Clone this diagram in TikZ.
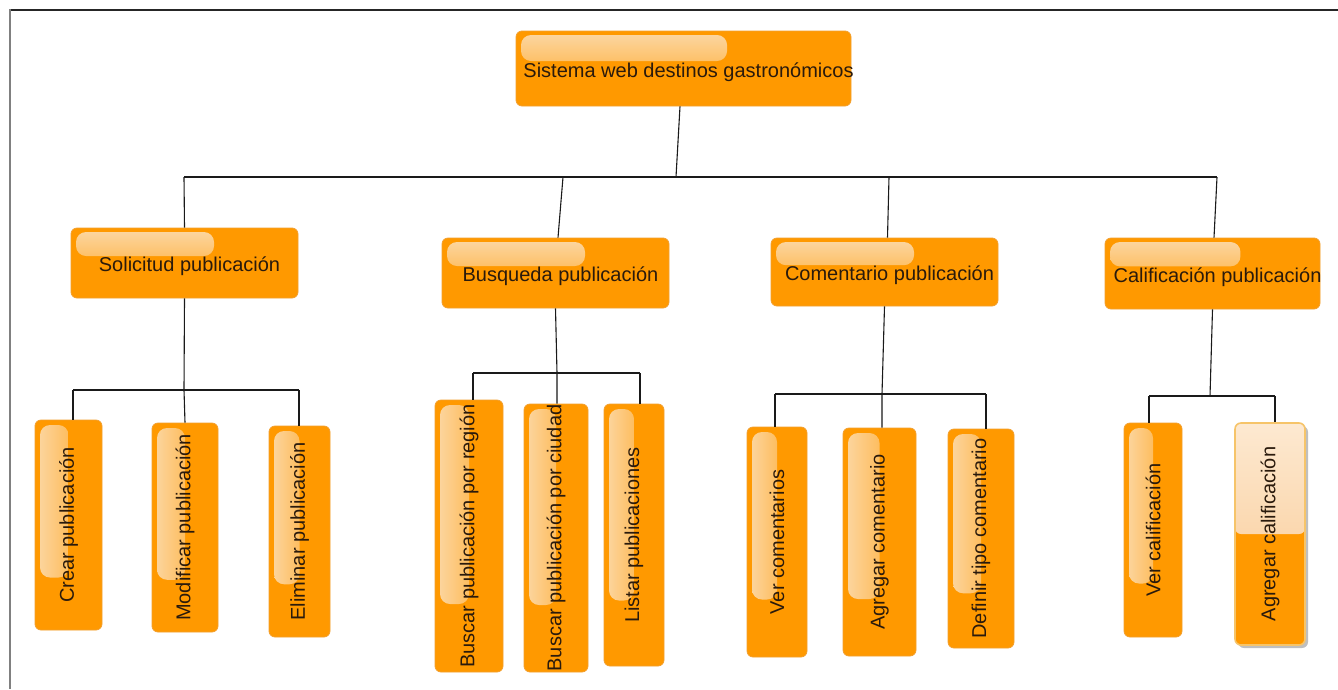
\documentclass[tikz,border=0pt]{standalone}
\usepackage{fontspec}
\setmainfont{Liberation Sans}
\usepackage{graphicx}
\usetikzlibrary{calc,shadows}

\definecolor{boxorange}{HTML}{FF9900}
\definecolor{boxedge}{HTML}{F2A030}
\definecolor{gloss}{HTML}{FCD8A6}
\definecolor{ink}{HTML}{2A1A0C}
\definecolor{wirecol}{HTML}{1A1A1A}
\definecolor{seledge}{HTML}{F6C469}
\definecolor{seltop}{HTML}{FDE9D1}
\definecolor{selmid}{HTML}{F8C68C}

% gloss gradients (a path covers the 25bp--75bp part of a shading)
\pgfdeclareverticalshading{glossdown}{100bp}{%
  color(0bp)=(boxorange); color(25bp)=(boxorange!92!gloss);
  color(75bp)=(gloss); color(100bp)=(gloss)}
\pgfdeclarehorizontalshading{glossright}{100bp}{%
  color(0bp)=(gloss); color(25bp)=(gloss);
  color(75bp)=(boxorange!85!gloss); color(100bp)=(boxorange!85!gloss)}
\pgfdeclareverticalshading{selfill}{100bp}{%
  color(0bp)=(selmid); color(25bp)=(selmid);
  color(75bp)=(seltop); color(100bp)=(seltop)}

\tikzset{
  box/.style={draw=boxedge, line width=0.8pt, fill=boxorange, rounded corners=6pt,
    inner sep=0pt, text=ink, font=\fontsize{20}{24}\selectfont},
  % horizontal box with a gloss band along the top left
  hbox/.style={box, text height=17pt, text depth=0pt,
    execute at begin node={\hspace*{5pt}},
    execute at end node={\hspace*{-5pt}},
    path picture={
    \shade[shading=glossdown, rounded corners=10pt]
      let \p1=(path picture bounding box.north west),
          \p2=(path picture bounding box.south east) in
      (\x1+5pt,\y1-4pt) rectangle ({\x1+0.63*(\x2-\x1)},{\y1-0.4*(\y1-\y2)});}},
  % upright box with a gloss band down the left side
  vbox/.style={box, path picture={
    \shade[shading=glossright, rounded corners=10pt]
      let \p1=(path picture bounding box.north west),
          \p2=(path picture bounding box.south east) in
      (\x1+5pt,\y1-5pt) rectangle ({\x1+0.5*(\x2-\x1)},{\y1-0.75*(\y1-\y2)});}},
  % highlighted upright box
  selbox/.style={box, draw=seledge, line width=1.6pt,
    drop shadow={shadow xshift=3pt, shadow yshift=-3pt, fill=black, opacity=0.25},
    path picture={
    \shade[shading=selfill]
      (path picture bounding box.north west) rectangle (path picture bounding box.east);}},
  wire/.style={draw=wirecol, line width=1.1pt},
}

\begin{document}
\begin{tikzpicture}[x=1pt,y=-1pt]
\useasboundingbox (0,0) rectangle (1338,689);
\fill[white] (0,0) rectangle (1338,689);

% frame
\draw[black!85, line width=2pt] (9,9.5) -- (1338,9.5);
\draw[black!50, line width=2pt] (10,9) -- (10,689);

% root
\node[hbox, minimum width=335pt, minimum height=75pt] (top) at (683.5,68.5)
  {Sistema web destinos gastronómicos};

% second level
\node[hbox, minimum width=227pt, minimum height=70pt] (sol)  at (184.5,263) {Solicitud publicación};
\node[hbox, minimum width=227pt, minimum height=70pt] (busq) at (555.5,273) {Busqueda publicación};
\node[hbox, minimum width=227pt, minimum height=68pt] (com)  at (884.5,272) {Comentario publicación};
\node[hbox, minimum width=215pt, minimum height=71pt] (cal)  at (1212.5,273.5) {Calificación publicación};

% leaves
\node[vbox, minimum width=67pt, minimum height=210pt] (crear)  at (68.5,525)  {\rotatebox{90}{Crear publicación}};
\node[vbox, minimum width=66pt, minimum height=209pt] (modif)  at (185,527.5) {\rotatebox{90}{Modificar publicación}};
\node[vbox, minimum width=61pt, minimum height=211pt] (elim)   at (299.5,531.5) {\rotatebox{90}{Eliminar publicación}};

\node[vbox, minimum width=68pt, minimum height=272pt] (region) at (469,536) {\rotatebox{90}{Buscar publicación por región}};
\node[vbox, minimum width=64pt, minimum height=268pt] (ciudad) at (556,538) {\rotatebox{90}{Buscar publicación por ciudad}};
\node[vbox, minimum width=60pt, minimum height=262pt] (listar) at (634,535) {\rotatebox{90}{Listar publicaciones}};

\node[vbox, minimum width=60pt, minimum height=230pt] (vercom) at (777,542)   {\rotatebox{90}{Ver comentarios}};
\node[vbox, minimum width=73pt, minimum height=228pt] (agrcom) at (879.5,542) {\rotatebox{90}{Agregar comentario}};
\node[vbox, minimum width=66pt, minimum height=219pt] (defcom) at (981,538.5) {\rotatebox{90}{Definir tipo comentario}};

\node[vbox, minimum width=58pt, minimum height=214pt] (vercal) at (1153,530) {\rotatebox{90}{Ver calificación}};
\node[selbox, minimum width=70pt, minimum height=222pt] (agrcal) at (1270,534) {\rotatebox{90}{Agregar calificación}};

% junction points
\coordinate (j1)  at (676,177);
\coordinate (b1l) at (184,177);
\coordinate (b1b) at (563,177);
\coordinate (b1c) at (889,177);
\coordinate (b1r) at (1217,177);

\coordinate (b2l) at (73,390);
\coordinate (b2m) at (184,390);
\coordinate (b2r) at (299,390);

\coordinate (b3l) at (473,373);
\coordinate (b3m) at (557,373);
\coordinate (b3r) at (640,373);

\coordinate (b4l) at (775,394);
\coordinate (b4m) at (882,394);
\coordinate (b4r) at (986,394);

\coordinate (b5l) at (1149,396);
\coordinate (b5m) at (1210,396);
\coordinate (b5r) at (1275,396);

% root to second level
\draw[wire] ([xshift=-3.5pt]top.south) -- (j1);
\draw[wire] (b1l) -- (b1r);
\draw[wire] (b1l) -- (sol.north);
\draw[wire] (b1b) -- ([xshift=2.5pt]busq.north);
\draw[wire] (b1c) -- ([xshift=3pt]com.north);
\draw[wire] (b1r) -- ([xshift=1.5pt]cal.north);

% Solicitud publicación
\draw[wire] (sol.south) -- (b2m) -- (modif.north);
\draw[wire] (b2l) -- (b2r);
\draw[wire] (b2l) -- (b2l |- crear.north);
\draw[wire] (b2r) -- (b2r |- elim.north);

% Busqueda publicación
\draw[wire] (busq.south) -- (b3m) -- (b3m |- ciudad.north);
\draw[wire] (b3l) -- (b3r);
\draw[wire] (b3l) -- (b3l |- region.north);
\draw[wire] (b3r) -- (b3r |- listar.north);

% Comentario publicación
\draw[wire] (com.south) -- (b4m) -- (b4m |- agrcom.north);
\draw[wire] (b4l) -- (b4r);
\draw[wire] (b4l) -- (b4l |- vercom.north);
\draw[wire] (b4r) -- (b4r |- defcom.north);

% Calificación publicación
\draw[wire] (cal.south) -- (b5m);
\draw[wire] (b5l) -- (b5r);
\draw[wire, line width=2pt] (b5l) -- (b5l |- vercal.north);
\draw[wire] (b5r) -- (b5r |- agrcal.north);
\end{tikzpicture}
\end{document}
